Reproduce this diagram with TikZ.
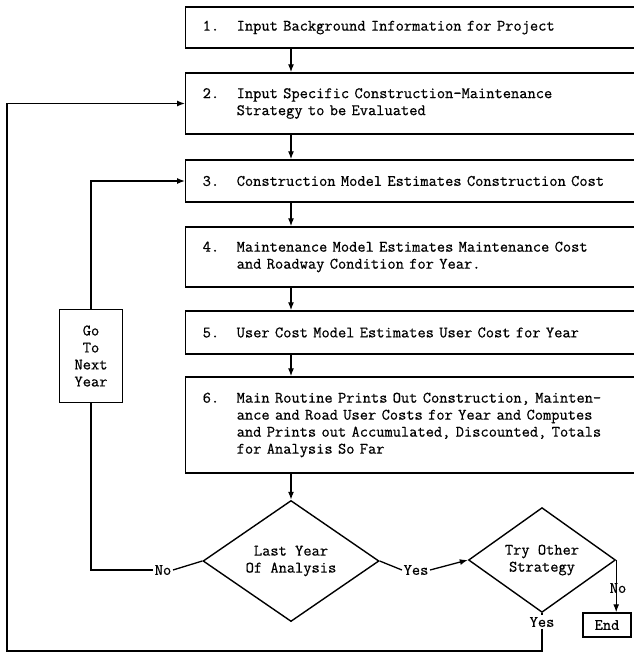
\documentclass[tikz,border=0pt]{standalone}
\usepackage{fontspec}
\setmonofont{Latin Modern Mono}[FakeBold=0.6]
\usepackage{tikz}
\usetikzlibrary{shapes.geometric,arrows.meta}
\tikzset{>={Latex[length=8pt,width=6pt]}}
\tikzstyle{procbox}=[draw,line width=1.4pt,anchor=west,text width=441pt,inner xsep=17pt,inner ysep=0pt]
\tikzstyle{decision}=[draw,line width=1.4pt,diamond,inner sep=0pt,align=center]
\tikzstyle{answer}=[inner sep=1.5pt]
\tikzstyle{flow}=[->,line width=1.3pt]
\tikzstyle{link}=[line width=1.3pt]
\newcommand{\proc}[2]{\makebox[34pt][l]{#1}\parbox[t]{410pt}{#2}}

\begin{document}
\begin{tikzpicture}[x=1pt,y=-1pt,font=\fontsize{16}{17}\selectfont\ttfamily]
  \useasboundingbox (0,0) rectangle (633,653);
  \coordinate (spine) at (291,0);
  \coordinate (outer) at (7,651);

  % PROCESS BOXES
  \node[procbox,minimum height=41pt] (b1) at (185,27.5) {\proc{1.}{Input Background Information for Project}};
  \node[procbox,minimum height=61pt] (b2) at (185,103.5) {\proc{2.}{Input Specific Construction-Maintenance\\Strategy to be Evaluated}};
  \node[procbox,minimum height=42pt] (b3) at (185,181) {\proc{3.}{Construction Model Estimates Construction Cost}};
  \node[procbox,minimum height=60pt] (b4) at (185,257) {\proc{4.}{Maintenance Model Estimates Maintenance Cost\\and Roadway Condition for Year.}};
  \node[procbox,minimum height=43pt] (b5) at (185,332.5) {\proc{5.}{User Cost Model Estimates User Cost for Year}};
  \node[procbox,minimum height=96pt] (b6) at (185,425) {\proc{6.}{Main Routine Prints Out Construction, Mainten-\\ance and Road User Costs for Year and Computes\\and Prints out Accumulated, Discounted, Totals\\for Analysis So Far}};

  % DECISIONS
  \node[decision,minimum width=176pt,minimum height=101pt] (dec1) at (291,561) {Last Year\\Of Analysis};
  \node[decision,minimum width=147pt,minimum height=85pt] (dec2) at (542,560) {Try Other\\Strategy};
  \node[draw,line width=1.4pt,minimum width=48pt,minimum height=24pt,inner sep=0pt] (end) at (607,625) {End};
  \node[draw,line width=1.4pt,minimum width=63pt,minimum height=93pt,align=center,inner sep=0pt] (next) at (91,356) {Go\\To\\Next\\Year};

  % LABELS
  \node[answer] (no1) at (163,570) {No};
  \node[answer] (yes1) at (416,570) {Yes};
  \node[answer] (yes2) at (542,622) {Yes};

  % MAIN FLOW
  \foreach \u/\v in {b1/b2,b2/b3,b3/b4,b4/b5,b5/b6}
    \draw[flow] (\u.south -| spine) -- (\v.north -| spine);
  \draw[flow] (b6.south -| dec1.north) -- (dec1.north);
  \draw[link] (dec1.east) -- (yes1.west);
  \draw[flow] (yes1.east) -- (dec2.west);
  \draw[flow] (dec2.east) -- (dec2.east |- end.north);
  \node[answer] (no2) at (618,588) {No};

  % LOOPS
  \draw[link] (dec1.west) -- (no1.east);
  \draw[link] (no1.west) -- (no1 -| next.south) -- (next.south);
  \draw[flow] (next.north) -- (next.north |- b3.west) -- (b3.west);
  \draw[link] (dec2.south) -- (yes2.north);
  \draw[flow] (yes2.south) -- (yes2 |- outer) -- (outer) |- (b2.west);
\end{tikzpicture}
\end{document}
